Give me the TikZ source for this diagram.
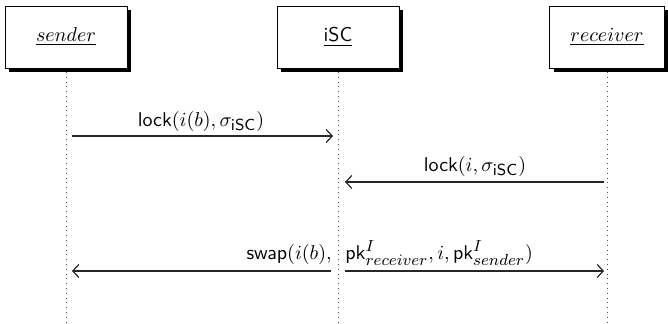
\documentclass[tikz,border=0pt]{standalone}
\usetikzlibrary{shadows,arrows.meta}
\DeclareMathSizes{10}{10}{7.6}{5.6}
\begin{document}
\begin{tikzpicture}[x=0.5pt,y=-0.5pt,
  inst/.style={draw, line width=0.4pt, fill=white, minimum width=61pt, minimum height=31pt, inner sep=0pt,
    drop shadow={shadow xshift=2pt, shadow yshift=-2pt, opacity=1, fill=black}},
  life/.style={dotted, line width=0.4pt, black!70},
  msg/.style={-{Straight Barb[length=3pt,width=6.5pt]}, line width=0.6pt, black!85},
  lbl/.style={inner sep=0pt}]
\useasboundingbox (0,0) rectangle (668,323);
% instances
\node[inst] (S) at (66,37) {\underline{$sender$}};
\node[inst] (I) at (338,37) {\underline{\textsf{iSC}}};
\node[inst, minimum width=57.5pt] (R) at (607,37) {\underline{$receiver$}};
% lifeline ends
\coordinate (Se) at (66,323);
\coordinate (Ie) at (338,323);
\coordinate (Re) at (607,323);
\draw[life] (66,72) -- (Se);
\draw[life] (338,72) -- (Ie);
\draw[life] (607,72) -- (Re);
% message 1
\coordinate (m1a) at (72,136);
\coordinate (m1b) at (333,136);
\draw[msg] (m1a) -- (m1b);
\node[lbl] (l1) at (201,121) {\textsf{lock}$(i(b), \sigma_{\mathsf{iSC}})$};
% message 2
\coordinate (m2a) at (604,182);
\coordinate (m2b) at (345,182);
\draw[msg] (m2a) -- (m2b);
\node[lbl] (l2) at (475,166) {\textsf{lock}$(i, \sigma_{\mathsf{iSC}})$};
% message 3
\coordinate (m3a) at (331,271);
\coordinate (m3b) at (72,271);
\coordinate (m3c) at (345,271);
\coordinate (m3d) at (604,271);
\draw[msg] (m3a) -- (m3b);
\draw[msg] (m3c) -- (m3d);
\node[lbl, anchor=base east] (l3a) at (332,259) {\textsf{swap}$(i(b),$};
\node[lbl, anchor=base west] (l3b) at (345,259) {$\mathsf{pk}^I_{receiver}, i, \mathsf{pk}^I_{sender})$};
\end{tikzpicture}
\end{document}
